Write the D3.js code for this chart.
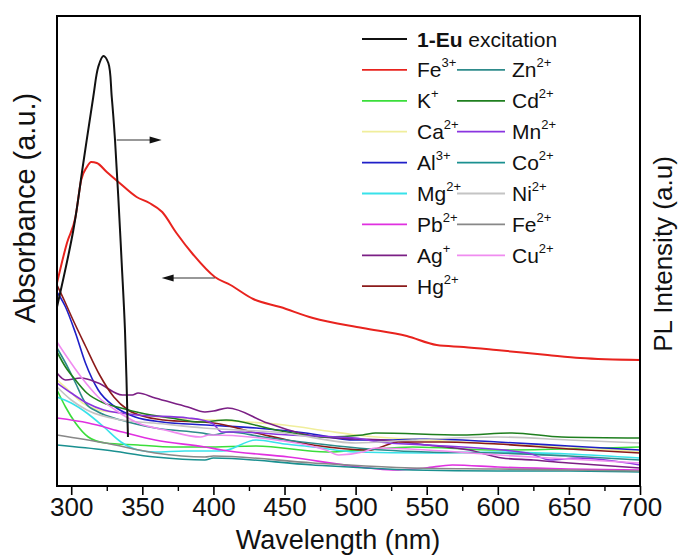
<!DOCTYPE html>
<html>
<head>
<meta charset="utf-8">
<script src="https://cdn.jsdelivr.net/npm/d3@7"></script>
<style>
  body { margin: 0; background: #fff; }
  svg { display: block; font-family: "Liberation Sans", Arial, sans-serif; }
</style>
</head>
<body>
<div id="chart"></div>
<script>
// data: [wavelength nm, absorbance a.u.]
var excitation = [[290,1.79],[301.5,2.56],[308.5,3.23],[315.5,3.89],[319,4.19],[322.6,4.30],[326.1,4.23],[328.5,3.89],[330.8,3.46],[333.1,2.89],[335.5,2.23],[337.8,1.56],[339.9,0.49]];
var fe3 = [[290,2.03],[297,2.43],[303,2.69],[307,3.06],[311,3.19],[314,3.24],[318,3.23],[325,3.14],[334,3.03],[346,2.89],[355,2.83],[364,2.74],[374,2.53],[386,2.31],[401,2.09],[412,2.01],[428,1.87],[447,1.79],[470,1.68],[505,1.58],[536,1.50],[557,1.41],[576,1.39],[599,1.36],[635,1.31],[658,1.28],[700,1.26]];
var kPlus = [[290,0.96],[296,0.79],[303,0.63],[312,0.49],[324,0.43],[347,0.41],[371,0.39],[394,0.39],[430,0.40],[480,0.34],[505,0.36],[540,0.39],[600,0.36],[650,0.37],[700,0.39]];
var ca = [[290,1.06],[298,0.96],[308,0.83],[319,0.76],[336,0.73],[370,0.68],[400,0.66],[450,0.61],[480,0.55],[500,0.51],[550,0.46],[600,0.42],[650,0.39],[700,0.34]];
var al = [[290,1.94],[296,1.79],[303,1.53],[310,1.23],[319,0.96],[331,0.79],[345,0.69],[364,0.64],[395,0.61],[430,0.58],[465,0.53],[500,0.46],[520,0.46],[550,0.47],[600,0.44],[650,0.40],[700,0.36]];
var mg = [[290,0.89],[300,0.83],[311,0.73],[323,0.59],[335,0.44],[347,0.36],[359,0.34],[380,0.35],[406,0.35],[430,0.46],[450,0.42],[470,0.39],[500,0.34],[550,0.33],[600,0.34],[650,0.32],[700,0.28]];
var pb = [[290,0.68],[312,0.63],[336,0.54],[359,0.46],[394,0.39],[406,0.36],[453,0.29],[503,0.19],[526,0.16],[549,0.18],[568,0.21],[600,0.19],[650,0.17],[700,0.16]];
var ag = [[290,1.13],[296,1.06],[307,1.08],[319,1.03],[336,0.91],[343,0.91],[347,0.93],[359,0.88],[382,0.79],[394,0.74],[400,0.75],[410,0.78],[438,0.63],[470,0.50],[500,0.47],[520,0.46],[550,0.41],[580,0.36],[603,0.28],[625,0.26],[650,0.23],[700,0.18]];
var hg = [[290,2.01],[295,1.86],[300,1.70],[310,1.40],[320,1.11],[330,0.89],[340,0.76],[350,0.70],[365,0.66],[400,0.63],[430,0.53],[470,0.41],[510,0.36],[520,0.40],[530,0.44],[560,0.44],[600,0.42],[650,0.37],[700,0.33]];
var zn = [[290,1.38],[296,1.23],[303,1.03],[310,0.83],[319,0.74],[335,0.66],[359,0.58],[392,0.53],[400,0.51],[411,0.54],[435,0.49],[481,0.41],[519,0.36],[550,0.34],[600,0.33],[650,0.30],[700,0.26]];
var cd = [[290,1.34],[296,1.19],[303,1.06],[311,0.93],[323,0.83],[335,0.78],[349,0.73],[370,0.68],[391,0.64],[409,0.66],[444,0.56],[479,0.49],[505,0.51],[514,0.53],[575,0.51],[610,0.53],[645,0.49],[700,0.48]];
var mn = [[290,1.03],[300,0.93],[311,0.83],[323,0.76],[347,0.71],[382,0.68],[392,0.66],[400,0.62],[406,0.54],[418,0.54],[453,0.51],[500,0.48],[516,0.44],[551,0.41],[621,0.33],[637,0.26],[656,0.28],[700,0.21]];
var co = [[290,0.41],[324,0.36],[359,0.29],[394,0.26],[400,0.28],[470,0.21],[540,0.16],[600,0.15],[650,0.15],[700,0.14]];
var ni = [[290,0.99],[300,0.86],[311,0.76],[335,0.66],[358,0.63],[393,0.58],[450,0.53],[500,0.43],[540,0.46],[600,0.49],[650,0.46],[700,0.43]];
var fe2 = [[290,0.51],[324,0.43],[359,0.33],[394,0.29],[400,0.30],[470,0.23],[540,0.18],[600,0.17],[650,0.16],[700,0.15]];
var cu = [[290,1.44],[297,1.29],[307,1.09],[319,0.89],[331,0.76],[347,0.63],[366,0.56],[391,0.49],[397,0.51],[444,0.46],[479,0.36],[488,0.31],[505,0.34],[514,0.38],[550,0.36],[600,0.31],[650,0.27],[700,0.23]];

var majorTicks = [300, 350, 400, 450, 500, 550, 600, 650, 700];
var minorTicks = [325, 375, 425, 475, 525, 575, 625, 675];

// ions: [element, charge, series, colour]
var col1 = [["Fe","3+",fe3,"#e8231e"],["K","+",kPlus,"#3ade3a"],["Ca","2+",ca,"#f0ee9c"],["Al","3+",al,"#1f1fc8"],
            ["Mg","2+",mg,"#38e2ea"],["Pb","2+",pb,"#e030e0"],["Ag","+",ag,"#7b1f85"],["Hg","2+",hg,"#8b1a1a"]];
var col2 = [["Zn","2+",zn,"#2e8b8b"],["Cd","2+",cd,"#1f7f1f"],["Mn","2+",mn,"#8a35e0"],["Co","2+",co,"#1a9090"],
            ["Ni","2+",ni,"#c4c4c4"],["Fe","2+",fe2,"#888888"],["Cu","2+",cu,"#f08cf0"]];

var width = 683, height = 556;
var svg = d3.select('#chart').append('svg').attr('width', width).attr('height', height);

var x = d3.scaleLinear().domain([290, 700]).range([57, 640]);
var y = d3.scaleLinear().domain([0, 4.7]).range([486, 16]);   // absorbance
var y2 = d3.scaleLinear().domain([0, 4.7]).range([486, 16]);  // PL intensity

var line = d3.line().x(function(d) { return x(d[0]); }).y(function(d) { return y(d[1]); }).curve(d3.curveMonotoneX);
var line2 = d3.line().x(function(d) { return x(d[0]); }).y(function(d) { return y2(d[1]); }).curve(d3.curveCatmullRom);

// absorbance curves, Fe3+ drawn last
var ions = col1.concat(col2);
var drawOrder = ions.slice(1).concat([ions[0]]);
svg.append('g').selectAll('path')
  .data(drawOrder)
  .enter().append('path')
  .attr('d', function(d) { return line(d[2]); })
  .attr('fill', 'none')
  .attr('stroke', function(d) { return d[3]; })
  .attr('stroke-width', function(d) { return d[2] === fe3 ? 2 : 1.6; });

svg.append('path')
  .attr('d', line2(excitation))
  .attr('fill', 'none')
  .attr('stroke', '#111')
  .attr('stroke-width', 2);

// arrows showing which axis each curve belongs to
function arrow(x0, x1, v) {
  var yy = y(v), dir = x1 > x0 ? 1 : -1;
  svg.append('line').attr('x1', x(x0)).attr('x2', x(x1) - dir * 10).attr('y1', yy).attr('y2', yy)
    .attr('stroke', '#333').attr('stroke-width', 1.2);
  svg.append('path')
    .attr('d', 'M' + x(x1) + ',' + yy + 'l' + (-dir * 12) + ',-3.5l0,7z')
    .attr('fill', '#111');
}
arrow(332, 363.6, 3.46);
arrow(401, 363.6, 2.08);

// frame
svg.append('rect').attr('x', 57).attr('y', 16).attr('width', 583).attr('height', 470)
  .attr('fill', 'none').attr('stroke', '#000').attr('stroke-width', 2);

// x axis
var xAxis = svg.append('g').attr('transform', 'translate(0,486)')
  .call(d3.axisBottom(x).tickValues(majorTicks).tickSize(9).tickPadding(3).tickFormat(d3.format('d')));
xAxis.select('.domain').remove();
xAxis.selectAll('line').attr('stroke-width', 1.6);
xAxis.selectAll('text').attr('font-size', 26).attr('fill', '#111').attr('font-family', 'Liberation Sans, Arial, sans-serif');

var xMinor = svg.append('g').attr('transform', 'translate(0,486)')
  .call(d3.axisBottom(x).tickValues(minorTicks).tickSize(5).tickFormat(''));
xMinor.select('.domain').remove();
xMinor.selectAll('line').attr('stroke-width', 1.4);

svg.append('text').attr('x', 338).attr('y', 549).attr('text-anchor', 'middle')
  .attr('font-size', 27).attr('fill', '#111').text('Wavelength (nm)');

svg.append('text').attr('transform', 'translate(35,208) rotate(-90)').attr('text-anchor', 'middle')
  .attr('font-size', 29).attr('fill', '#111').text('Absorbance (a.u.)');

svg.append('text').attr('transform', 'translate(672,254) rotate(-90)').attr('text-anchor', 'middle')
  .attr('font-size', 26).attr('fill', '#111').text('PL Intensity (a.u)');

// legend
var rowH = 30.9, row0 = 39;
var leg = svg.append('g').attr('font-size', 21).attr('fill', '#111');

leg.append('line').attr('x1', 362).attr('x2', 407).attr('y1', row0).attr('y2', row0)
  .attr('stroke', '#111').attr('stroke-width', 1.8);
var t0 = leg.append('text').attr('x', 417).attr('y', row0 + 7.5);
t0.append('tspan').attr('font-weight', 'bold').text('1-Eu');
t0.append('tspan').text(' excitation');

function legendColumn(items, lx0, lx1, tx) {
  var g = leg.append('g').selectAll('g').data(items).enter().append('g')
    .attr('transform', function(d, i) { return 'translate(0,' + (row0 + rowH * (i + 1)) + ')'; });
  g.append('line').attr('x1', lx0).attr('x2', lx1).attr('y1', 0).attr('y2', 0)
    .attr('stroke', function(d) { return d[3]; }).attr('stroke-width', 1.8);
  var t = g.append('text').attr('x', tx).attr('y', 7.5);
  t.append('tspan').text(function(d) { return d[0]; });
  t.append('tspan').attr('font-size', 13).attr('dy', -10).text(function(d) { return d[1]; });
}
legendColumn(col1, 362, 407, 417);
legendColumn(col2, 457, 505, 512);
</script>
</body>
</html>
